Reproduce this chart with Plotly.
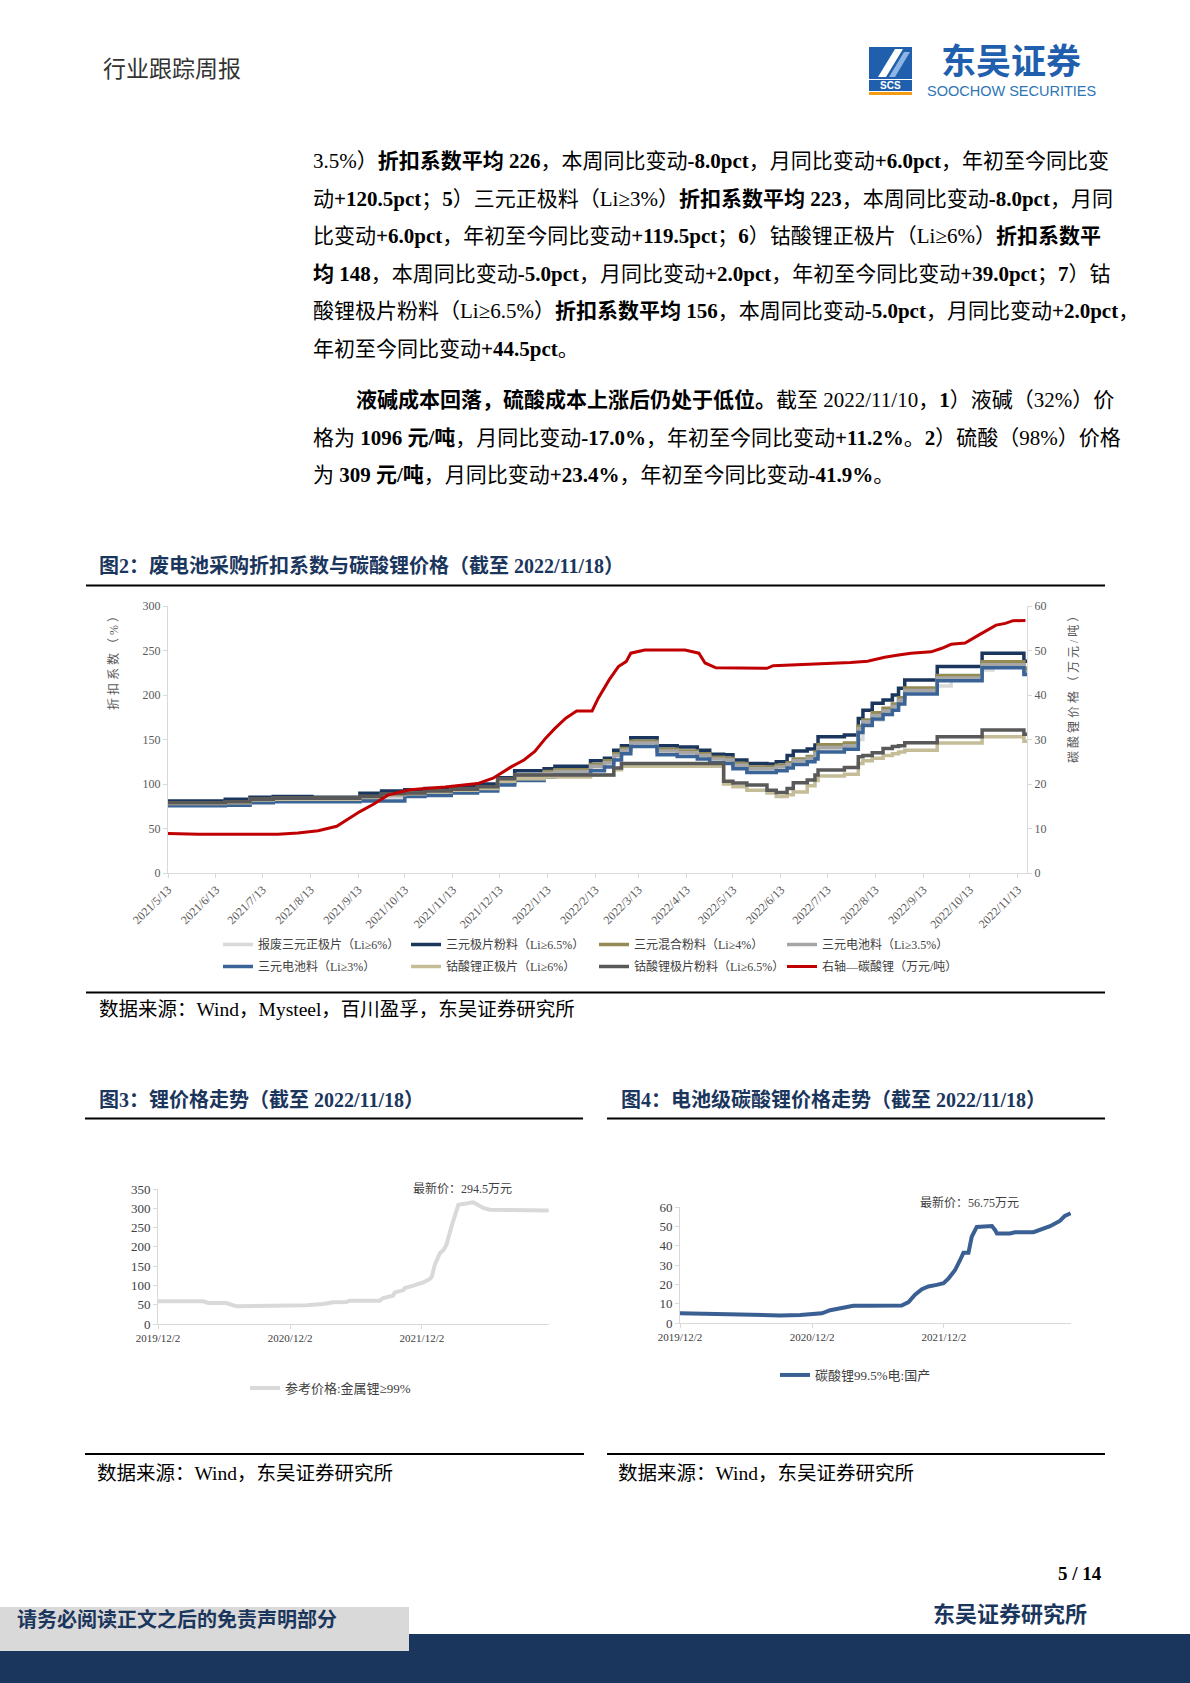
import plotly.graph_objects as go

W, H = 1190, 1683
FONT = "Liberation Serif, Noto Sans CJK SC, sans-serif"
CJK = "Noto Sans CJK SC, sans-serif"

def px(x):
    return x / W

def py(y):
    return 1 - y / H

# ---------------- Chart 2 data: 废电池采购折扣系数 (%) ----------------
disc_dates = ["2021-05-13", "2021-06-19", "2021-07-05", "2021-07-20", "2021-08-14", "2021-09-14",
              "2021-09-28", "2021-10-13", "2021-10-26", "2021-11-12", "2021-11-29", "2021-12-12",
              "2021-12-23", "2022-01-11", "2022-01-18", "2022-02-10", "2022-02-19", "2022-02-25",
              "2022-03-02", "2022-03-08", "2022-03-25", "2022-04-07", "2022-04-20", "2022-04-28",
              "2022-05-07", "2022-05-13", "2022-05-22", "2022-06-04", "2022-06-10", "2022-06-17",
              "2022-06-21", "2022-06-30", "2022-07-05", "2022-07-07", "2022-07-24", "2022-08-02",
              "2022-08-05", "2022-08-11", "2022-08-18", "2022-08-24", "2022-08-28", "2022-09-01",
              "2022-09-22", "2022-10-01", "2022-10-21", "2022-10-28", "2022-11-17", "2022-11-19"]
scrap_ncm_sheet = [77, 78, 80, 82, 82, 83, 85, 87, 89, 91, 93, 100, 106, 110, 112, 118, 122, 128, 136, 150,
                   140, 137, 135, 131, 129, 124, 119, 118, 120, 123, 125, 128, 131, 138, 140, 150, 165, 172,
                   178, 184, 190, 202, 210, 219, 228, 234, 228, 228]
ncm_powder = [81, 83, 85, 86, 85, 89.5, 92, 93.5, 95, 97, 100, 107, 115, 117, 120, 126, 129, 138, 143, 152,
              143, 141.5, 138, 133.5, 133, 127, 123, 122.5, 125, 132, 137, 139.3, 143.8, 153.2, 155, 173.6,
              183, 190.6, 194.4, 200, 207.5, 216.9, 232, 232, 246.8, 246.8, 238, 238]
ncm_mixed = [79, 80, 83, 84, 84, 86, 89, 90, 92, 94, 96, 104, 110, 114, 116, 122, 126, 134, 140, 148,
             139, 137, 134, 130, 129, 123, 119, 119, 121, 124, 128, 131, 136, 144, 146, 165, 172, 180,
             185, 190, 197, 208, 222, 222, 237.5, 237.5, 230, 230]
ncm_batt35 = [78, 79, 82, 83, 83, 84, 87, 88, 90, 92, 94, 102, 108, 112, 114, 120, 124, 132, 138, 146,
              137, 135, 132, 128, 127, 121, 117, 117, 119, 122, 126, 129, 134, 141, 143, 162, 170, 177,
              182, 187, 194, 205, 219, 219, 234, 234, 226, 226]
ncm_batt3 = [75.5, 76, 79, 80, 80, 81, 81, 86, 87, 90, 92, 99, 104, 108, 110, 115, 119, 127, 134, 142,
             133, 131, 128, 124, 123, 117, 113, 113, 115, 118, 122, 125, 128, 136, 139, 158, 166, 173,
             178, 183, 190, 201, 216, 216, 230.5, 230.5, 223, 223]
lco_sheet = [78, 79, 82, 83, 83, 85, 88, 89, 91, 93, 95, 103, 106, 108, 108, 110, 110, 116, 120, 120,
             120, 120, 120, 120, 100, 97, 93, 90, 86, 88, 91, 98, 104, 109, 111, 123, 126, 129,
             132, 134, 136, 138, 146, 146, 153, 153, 148, 148]
lco_powder = [79, 80, 83, 84, 84, 86, 89, 90, 92, 94, 97, 106, 110, 110, 110, 110, 110, 118, 123, 123,
              123, 123, 123, 123, 103, 101, 99, 93, 90.5, 95, 101.5, 104.5, 110, 115.7, 118.4, 130.7,
              132, 135.2, 140, 142, 143, 146.4, 153.2, 153.2, 160.7, 160.7, 156, 156]

# 碳酸锂 (万元/吨), right axis
li2co3_w_dates = ["2021-05-13", "2021-06-02", "2021-07-23", "2021-08-05", "2021-08-18", "2021-08-30",
                  "2021-09-14", "2021-09-23", "2021-10-02", "2021-10-16", "2021-11-08", "2021-11-29",
                  "2021-12-09", "2021-12-21", "2021-12-29", "2022-01-05", "2022-01-12", "2022-01-18",
                  "2022-01-25", "2022-02-01", "2022-02-11", "2022-02-15", "2022-02-22", "2022-02-28",
                  "2022-03-05", "2022-03-08", "2022-03-17", "2022-04-12", "2022-04-21", "2022-04-25",
                  "2022-05-02", "2022-06-04", "2022-06-08", "2022-07-06", "2022-07-28", "2022-08-08",
                  "2022-08-19", "2022-08-28", "2022-09-05", "2022-09-18", "2022-09-25", "2022-10-01",
                  "2022-10-10", "2022-10-19", "2022-10-25", "2022-10-30", "2022-11-05", "2022-11-10",
                  "2022-11-18"]
li2co3_w_price = [8.9, 8.7, 8.7, 9.0, 9.5, 10.5, 13.8, 15.5, 17.5, 18.7, 19.3, 20.1, 21.3, 23.9, 25.4,
                  27.3, 30.3, 32.5, 34.8, 36.4, 36.4, 39.3, 43.4, 46.4, 47.5, 49.4, 50.1, 50.1, 49.4,
                  47.2, 46.1, 46.0, 46.6, 46.9, 47.3, 47.6, 48.5, 49.0, 49.4, 49.7, 50.5, 51.4, 51.7,
                  53.5, 54.6, 55.7, 56.1, 56.7, 56.75]

c2_tickvals = ["2021-05-13", "2021-06-13", "2021-07-13", "2021-08-13", "2021-09-13", "2021-10-13",
               "2021-11-13", "2021-12-13", "2022-01-13", "2022-02-13", "2022-03-13", "2022-04-13",
               "2022-05-13", "2022-06-13", "2022-07-13", "2022-08-13", "2022-09-13", "2022-10-13",
               "2022-11-13"]
c2_ticktext = ["2021/5/13", "2021/6/13", "2021/7/13", "2021/8/13", "2021/9/13", "2021/10/13",
               "2021/11/13", "2021/12/13", "2022/1/13", "2022/2/13", "2022/3/13", "2022/4/13",
               "2022/5/13", "2022/6/13", "2022/7/13", "2022/8/13", "2022/9/13", "2022/10/13",
               "2022/11/13"]

# ---------------- Chart 3 data: 金属锂 ----------------
li_metal_dates = ["2019-12-02", "2020-04-05", "2020-04-19", "2020-06-08", "2020-07-06", "2020-09-27",
                  "2020-12-10", "2021-01-16", "2021-03-03", "2021-03-31", "2021-05-07", "2021-05-16",
                  "2021-08-07", "2021-08-17", "2021-09-13", "2021-09-18", "2021-10-11", "2021-10-16",
                  "2021-11-08", "2021-12-06", "2021-12-24", "2021-12-29", "2022-01-07", "2022-01-21",
                  "2022-01-30", "2022-02-08", "2022-02-22", "2022-03-03", "2022-03-13", "2022-04-23",
                  "2022-05-21", "2022-06-08", "2022-08-21", "2022-08-30", "2022-11-18"]
li_metal_price = [58.8, 58.8, 54.5, 54.5, 45.8, 45.8, 45.8, 48.4, 51.9, 56.2, 57, 60.5, 60.5, 67.4, 73.5,
                  82, 87.3, 93.3, 99.4, 108, 116.7, 122, 154, 184, 191, 205.7, 253, 279, 309.4, 315.5,
                  300.8, 296.5, 296.5, 294.5, 294.5]

# ---------------- Chart 4 data: 电池级碳酸锂 ----------------
li2co3_dates = ["2019-12-02", "2020-01-26", "2020-03-22", "2020-05-16", "2020-07-11", "2020-09-04",
                "2020-10-30", "2020-12-06", "2020-12-29", "2021-01-21", "2021-02-08", "2021-03-03",
                "2021-03-26", "2021-05-02", "2021-07-15", "2021-08-07", "2021-08-26", "2021-09-13",
                "2021-10-02", "2021-10-20", "2021-11-12", "2021-12-01", "2021-12-15", "2022-01-02",
                "2022-01-16", "2022-01-25", "2022-02-08", "2022-02-17", "2022-03-03", "2022-04-14",
                "2022-04-23", "2022-04-28", "2022-06-03", "2022-06-17", "2022-08-07", "2022-08-30",
                "2022-09-22", "2022-10-19", "2022-11-02", "2022-11-18"]
li2co3_price = [5.1, 4.8, 4.6, 4.3, 3.9, 3.9, 4.1, 4.5, 5.0, 6.6, 7.2, 8.2, 8.9, 8.9, 8.7, 9.0, 10.8,
                14.6, 17.5, 18.9, 19.7, 20.6, 23.1, 27.4, 32.6, 36.3, 36.3, 44.6, 49.7, 50.2, 48, 46.3,
                46.3, 46.9, 47.0, 48.4, 50.1, 52.8, 55.4, 56.75]

yr_tickvals = ["2019-12-02", "2020-12-02", "2021-12-02"]
yr_ticktext = ["2019/12/2", "2020/12/2", "2021/12/2"]

fig = go.Figure()

# ---- chart 2 traces
series2 = [
    ("报废三元正极片（Li≥6%）", scrap_ncm_sheet, "#d9d9d9", "legend"),
    ("三元极片粉料（Li≥6.5%）", ncm_powder, "#1b365d", "legend"),
    ("三元混合粉料（Li≥4%）", ncm_mixed, "#948a54", "legend"),
    ("三元电池料（Li≥3.5%）", ncm_batt35, "#a6a6a6", "legend"),
    ("三元电池料（Li≥3%）", ncm_batt3, "#3a6497", "legend2"),
    ("钴酸锂正极片（Li≥6%）", lco_sheet, "#c4bd97", "legend2"),
    ("钴酸锂极片粉料（Li≥6.5%）", lco_powder, "#595959", "legend2"),
]
for name, vals, col, lg in series2:
    fig.add_trace(go.Scatter(x=disc_dates, y=vals, name=name, mode="lines",
                             line=dict(color=col, width=3.5, shape="hv"),
                             xaxis="x", yaxis="y", legend=lg))
fig.add_trace(go.Scatter(x=li2co3_w_dates, y=li2co3_w_price, name="右轴—碳酸锂（万元/吨）", mode="lines",
                         line=dict(color="#c00000", width=3), xaxis="x", yaxis="y2", legend="legend2"))

# ---- chart 3
fig.add_trace(go.Scatter(x=li_metal_dates, y=li_metal_price, name="参考价格:金属锂≥99%", mode="lines",
                         line=dict(color="#d9d9d9", width=4), xaxis="x3", yaxis="y3", legend="legend3"))
# ---- chart 4
fig.add_trace(go.Scatter(x=li2co3_dates, y=li2co3_price, name="碳酸锂99.5%电:国产", mode="lines",
                         line=dict(color="#3a5f92", width=4), xaxis="x4", yaxis="y4", legend="legend4"))

axcol = "#d9d9d9"
tickc = "#595959"
common_ax = dict(showgrid=False, zeroline=False, showline=True, linecolor=axcol, linewidth=1,
                 ticks="outside", ticklen=4, tickcolor=axcol, fixedrange=True, automargin=False)

fig.update_layout(
    template="none",
    width=W, height=H, margin=dict(l=0, r=0, t=0, b=0, pad=0, autoexpand=False),
    paper_bgcolor="white", plot_bgcolor="white",
    font=dict(family=FONT, color="#000"),
    xaxis=dict(domain=[px(168), px(1027)], type="date", range=["2021-05-13", "2022-11-19"],
               tickmode="array", tickvals=c2_tickvals, ticktext=c2_ticktext, tickangle=-45,
               tickfont=dict(size=12, color=tickc), anchor="y", **common_ax),
    yaxis=dict(domain=[py(873), py(606)], range=[0, 300], dtick=50, anchor="x",
               tickfont=dict(size=12, color=tickc), **common_ax),
    yaxis2=dict(overlaying="y", side="right", range=[0, 60], dtick=10, anchor="x",
                tickfont=dict(size=12, color=tickc), **common_ax),
    xaxis3=dict(domain=[px(158), px(549)], type="date", range=["2019-12-02", "2022-11-19"],
                tickmode="array", tickvals=yr_tickvals, ticktext=yr_ticktext, tickangle=0,
                tickfont=dict(size=11, color="#404040"), anchor="y3", **common_ax),
    yaxis3=dict(domain=[py(1324), py(1189)], range=[0, 350], dtick=50, anchor="x3",
                tickfont=dict(size=13, color="#404040"), **common_ax),
    xaxis4=dict(domain=[px(680), px(1071)], type="date", range=["2019-12-02", "2022-11-19"],
                tickmode="array", tickvals=yr_tickvals, ticktext=yr_ticktext, tickangle=0,
                tickfont=dict(size=11, color="#404040"), anchor="y4", **common_ax),
    yaxis4=dict(domain=[py(1323), py(1207)], range=[0, 60], dtick=10, anchor="x4",
                tickfont=dict(size=13, color="#404040"), **common_ax),
    legend=dict(orientation="h", x=px(218), y=py(930), xanchor="left", yanchor="top",
                entrywidth=143, entrywidthmode="pixels", font=dict(size=12, color="#404040"),
                bgcolor="rgba(0,0,0,0)"),
    legend2=dict(orientation="h", x=px(218), y=py(952), xanchor="left", yanchor="top",
                 entrywidth=143, entrywidthmode="pixels", font=dict(size=12, color="#404040"),
                 bgcolor="rgba(0,0,0,0)"),
    legend3=dict(orientation="h", x=px(245), y=py(1373), xanchor="left", yanchor="top",
                 font=dict(size=13, color="#404040"), bgcolor="rgba(0,0,0,0)"),
    legend4=dict(orientation="h", x=px(775), y=py(1360), xanchor="left", yanchor="top",
                 font=dict(size=13, color="#404040"), bgcolor="rgba(0,0,0,0)"),
    showlegend=True,
)

shapes = []
def hline(x0, x1, y, w=2, col="#000"):
    shapes.append(dict(type="line", xref="paper", yref="paper", x0=px(x0), x1=px(x1), y0=py(y), y1=py(y),
                       line=dict(color=col, width=w)))
def rect(x0, y0, x1, y1, col):
    shapes.append(dict(type="rect", xref="paper", yref="paper", x0=px(x0), x1=px(x1), y0=py(y1), y1=py(y0),
                       fillcolor=col, line=dict(width=0)))

hline(86, 1105, 585.5)
hline(86, 1105, 992.5)
hline(85, 583, 1118.5)
hline(607, 1105, 1118.5)
hline(85, 584, 1454)
hline(607, 1105, 1454)
# footer
rect(0, 1634, 1190, 1683, "#1b365d")
rect(0, 1607, 409, 1651, "#d9d9d9")
# logo icon
rect(869, 47, 912, 79, "#1f5fae")
shapes.append(dict(type="path", xref="paper", yref="paper",
                   path=f"M{px(878)},{py(77)} L{px(886)},{py(77)} L{px(903)},{py(49)} L{px(895)},{py(49)} Z",
                   fillcolor="white", line=dict(width=0)))
shapes.append(dict(type="path", xref="paper", yref="paper",
                   path=f"M{px(889)},{py(77)} L{px(895)},{py(77)} L{px(910)},{py(52)} L{px(904)},{py(52)} Z",
                   fillcolor="#8db4e2", line=dict(width=0)))
rect(869, 80, 912, 91, "#1f5fae")
rect(869, 92, 912, 95, "#f39c12")

ann = []
def T(x, y, text, size, color="#000", anchor="left", family=FONT, angle=0):
    ann.append(dict(x=px(x), y=py(y), xref="paper", yref="paper", text=text, showarrow=False,
                    xanchor=anchor, yanchor="middle", textangle=angle,
                    font=dict(size=size, color=color, family=family)))

# header
T(101, 70, "行业跟踪周报", 23, "#333333")
T(1011, 58, "<b>东吴证券</b>", 35, "#1f5fae", anchor="center", family=CJK)
T(1011, 91, "SOOCHOW SECURITIES", 14.5, "#2e75b6", anchor="center", family="Liberation Sans, Arial")
T(890.5, 85.5, "<b>SCS</b>", 10, "white", anchor="center", family="Liberation Sans, Arial")

# body text
BS = 21
body = [
    (311, 161, "3.5%）<b>折扣系数平均 226</b>，本周同比变动<b>-8.0pct</b>，月同比变动<b>+6.0pct</b>，年初至今同比变"),
    (311, 199, "动<b>+120.5pct</b>；<b>5</b>）三元正极料（Li≥3%）<b>折扣系数平均 223</b>，本周同比变动<b>-8.0pct</b>，月同"),
    (311, 236, "比变动<b>+6.0pct</b>，年初至今同比变动<b>+119.5pct</b>；<b>6</b>）钴酸锂正极片（Li≥6%）<b>折扣系数平</b>"),
    (311, 274, "<b>均 148</b>，本周同比变动<b>-5.0pct</b>，月同比变动<b>+2.0pct</b>，年初至今同比变动<b>+39.0pct</b>；<b>7</b>）钴"),
    (311, 311, "酸锂极片粉料（Li≥6.5%）<b>折扣系数平均 156</b>，本周同比变动<b>-5.0pct</b>，月同比变动<b>+2.0pct</b>，"),
    (311, 349, "年初至今同比变动<b>+44.5pct</b>。"),
    (354, 400, "<b>液碱成本回落，硫酸成本上涨后仍处于低位。</b>截至 2022/11/10，<b>1</b>）液碱（32%）价"),
    (311, 438, "格为 <b>1096 元/吨</b>，月同比变动<b>-17.0%</b>，年初至今同比变动<b>+11.2%</b>。<b>2</b>）硫酸（98%）价格"),
    (311, 475, "为 <b>309 元/吨</b>，月同比变动<b>+23.4%</b>，年初至今同比变动<b>-41.9%</b>。"),
]
for x, y, t in body:
    T(x, y, t, BS)

NAVY = "#1b365d"
T(97, 566, "<b>图2：废电池采购折扣系数与碳酸锂价格（截至 2022/11/18）</b>", 20, NAVY)
T(97, 1009, "数据来源：Wind，Mysteel，百川盈孚，东吴证券研究所", 19.5)
T(97, 1100, "<b>图3：锂价格走势（截至 2022/11/18）</b>", 20, NAVY)
T(619, 1100, "<b>图4：电池级碳酸锂价格走势（截至 2022/11/18）</b>", 20, NAVY)
T(95, 1473, "数据来源：Wind，东吴证券研究所", 19.5)
T(616, 1473, "数据来源：Wind，东吴证券研究所", 19.5)

# chart 2 axis titles
T(114, 660, "折 扣 系 数 （ % ）", 12, tickc, anchor="center", angle=-90)
T(1073, 687, "碳 酸 锂 价 格 （ 万 元 / 吨 ）", 12, tickc, anchor="center", angle=-90)

# latest price notes
T(411, 1188, "最新价：294.5万元", 12, "#404040")
T(918, 1202, "最新价：56.75万元", 12, "#404040")

# footer
T(1104, 1573, "<b>5 / 14</b>", 19, "#000", anchor="right")
T(1089, 1612, "<b>东吴证券研究所</b>", 22, NAVY, anchor="right", family=CJK)
T(15, 1618, "<b>请务必阅读正文之后的免责声明部分</b>", 20, NAVY, family=CJK)

fig.update_layout(shapes=shapes, annotations=ann)
fig.write_html("out.html", config={"displayModeBar": False},
               post_script="document.body.style.margin='0px';document.body.style.padding='0px';"
                           "document.body.style.overflow='hidden';")
